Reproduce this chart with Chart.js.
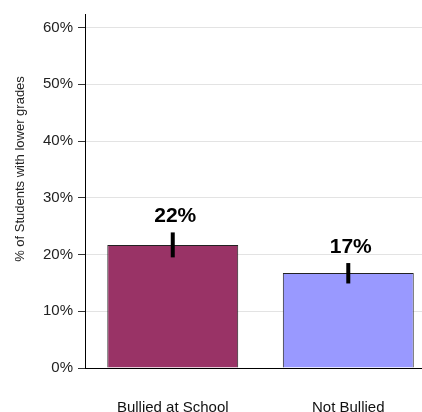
<!DOCTYPE html>
<html>
<head>
<meta charset="utf-8">
<script src="https://cdn.jsdelivr.net/npm/chart.js@4/dist/chart.umd.min.js"></script>
<style>
    html, body { margin: 0; padding: 0; background: #fff; }
    canvas { display: block; }
</style>
</head>
<body>
<canvas id="gradesChart" width="422" height="412"></canvas>
<script>
// Chart data
const categories = ['Bullied at School', 'Not Bullied'];
const values = [21.7, 16.75];
const errLow = [19.5, 14.9];
const errHigh = [23.9, 18.5];
const barColors = ['#993366', '#9999ff'];
const yTicks = [0, 10, 20, 30, 40, 50, 60];
const yTitle = '% of Students with lower grades';

const FONT = "'Liberation Sans', Arial, sans-serif";

// Error bars and value labels on top of the bars
const errorBarPlugin = {
    id: 'errorBars',
    afterDatasetsDraw(chart) {
        const ctx = chart.ctx;
        const x = chart.scales.x;
        const y = chart.scales.y;
        ctx.save();
        values.forEach((v, i) => {
            const px = x.getPixelForValue(i + 1);
            const top = y.getPixelForValue(errHigh[i]);
            const bottom = y.getPixelForValue(errLow[i]);
            ctx.strokeStyle = '#000';
            ctx.lineWidth = 4;
            ctx.beginPath();
            ctx.moveTo(px, top);
            ctx.lineTo(px, bottom);
            ctx.stroke();

            ctx.fillStyle = '#000';
            ctx.font = 'bold 21px ' + FONT;
            ctx.textAlign = 'center';
            ctx.textBaseline = 'alphabetic';
            ctx.fillText(Math.round(v) + '%', px + 2.5, top - 10);
        });
        ctx.restore();
    }
};

// Y axis title, drawn by hand so it can sit a bit above the middle
const yTitlePlugin = {
    id: 'yTitle',
    afterDraw(chart) {
        const ctx = chart.ctx;
        ctx.save();
        ctx.translate(20, 169);
        ctx.rotate(-Math.PI / 2);
        ctx.fillStyle = '#222';
        ctx.font = '13px ' + FONT;
        ctx.textAlign = 'center';
        ctx.textBaseline = 'middle';
        ctx.fillText(yTitle, 0, 0);
        ctx.restore();
    }
};

const ctx = document.getElementById('gradesChart');
new Chart(ctx, {
    type: 'bar',
    data: {
        datasets: [{
            data: values.map((v, i) => ({ x: i + 1, y: v })),
            backgroundColor: barColors,
            borderColor: '#222',
            borderWidth: 1,
            categoryPercentage: 1,
            barPercentage: 0.746
        }]
    },
    options: {
        responsive: false,
        animation: false,
        layout: { padding: { top: 10, right: 0, left: 0, bottom: 0 } },
        plugins: {
            legend: { display: false },
            tooltip: { enabled: false }
        },
        scales: {
            x: {
                type: 'linear',
                offset: false,
                min: 0.5,
                max: 2.42,
                afterBuildTicks: scale => {
                    scale.ticks = categories.map((c, i) => ({ value: i + 1 }));
                },
                afterFit: scale => { scale.height = 44; },
                grid: { display: false, offset: false },
                border: { color: '#000', width: 1 },
                ticks: {
                    padding: 23,
                    maxRotation: 0,
                    autoSkip: false,
                    color: '#111',
                    font: { family: FONT, size: 15 },
                    callback: value => categories[value - 1]
                }
            },
            y: {
                min: 0,
                max: 62.4,
                afterBuildTicks: scale => {
                    scale.ticks = yTicks.map(v => ({ value: v }));
                },
                afterFit: scale => { scale.width = 85; },
                grid: {
                    color: '#e3e3e3',
                    tickColor: '#333',
                    tickLength: 7
                },
                border: { color: '#000', width: 1 },
                ticks: {
                    padding: 5,
                    color: '#222',
                    font: { family: FONT, size: 15 },
                    callback: value => value + '%'
                }
            }
        }
    },
    plugins: [errorBarPlugin, yTitlePlugin]
});
</script>
</body>
</html>
